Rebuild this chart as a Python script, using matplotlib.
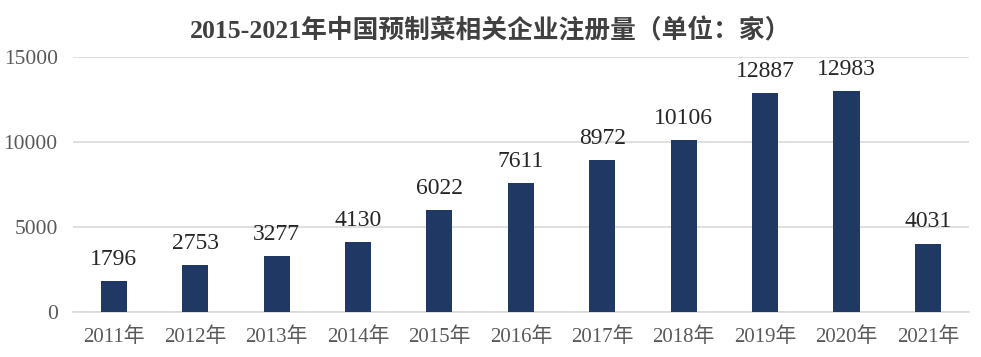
import matplotlib.pyplot as plt
import numpy as np

years = ['2011年', '2012年', '2013年', '2014年', '2015年', '2016年',
         '2017年', '2018年', '2019年', '2020年', '2021年']
counts = [1796, 2753, 3277, 4130, 6022, 7611, 8972, 10106, 12887, 12983, 4031]
yticks = [0, 5000, 10000, 15000]

fam = ['Liberation Serif', 'Noto Sans CJK SC']
plt.rcParams['font.family'] = fam

fig = plt.figure(figsize=(9.81, 3.57), dpi=100)
ax = fig.add_axes([0.0744, 0.126, 0.913, 0.714])

x = np.arange(len(years))
bars = ax.bar(x, counts, width=0.32, color='#203864', zorder=3)
for xi, v in zip(x, counts):
    ax.text(xi, v + 650, str(v), ha='center', va='bottom', fontsize=17, color='#262626')

ax.set_xlim(-0.5, len(years) - 0.5)
ax.set_ylim(0, 15000)
ax.set_yticks(yticks)
ax.set_xticks(x)
ax.set_xticklabels(years)
ax.tick_params(axis='both', length=0, colors='#595959')
ax.tick_params(axis='y', pad=11, labelsize=15.5)
ax.tick_params(axis='x', pad=11, labelsize=15)
ax.grid(axis='y', color='#d9d9d9', linewidth=1.2, zorder=0)
for s in ['top', 'right', 'left']:
    ax.spines[s].set_visible(False)
ax.spines['bottom'].set_color('#d9d9d9')
ax.spines['bottom'].set_linewidth(1.2)

fig.text(0.5, 0.915, '2015-2021年中国预制菜相关企业注册量（单位：家）', ha='center', va='center',
         fontsize=18.5, fontweight='bold', color='#404040')

fig.savefig('out.png', dpi=100)
